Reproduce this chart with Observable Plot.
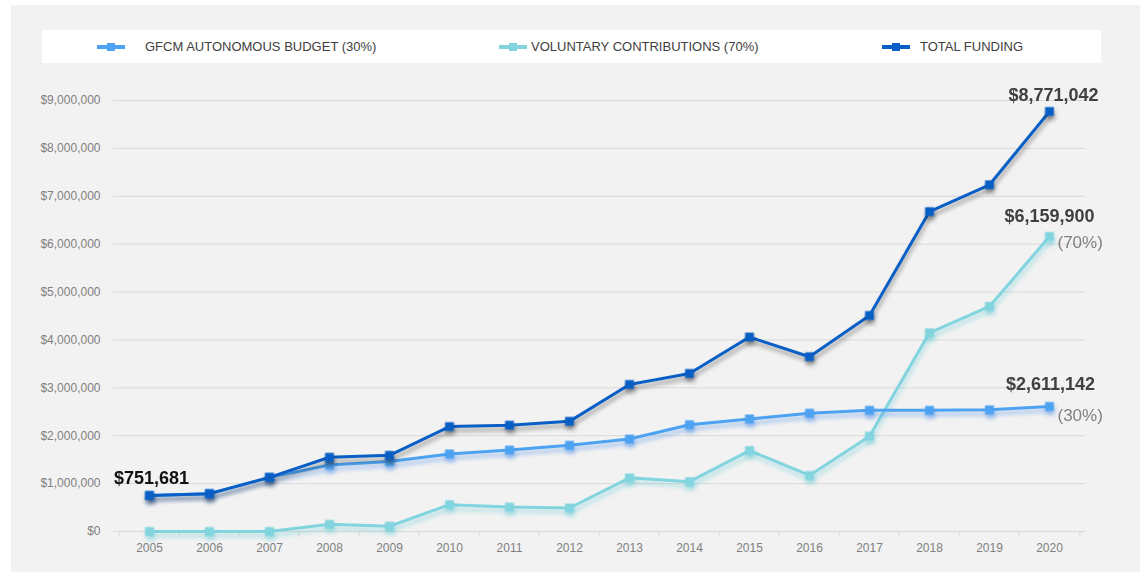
<!DOCTYPE html>
<html>
<head>
<meta charset="utf-8">
<script src="https://cdn.jsdelivr.net/npm/d3@7"></script>
<script src="https://cdn.jsdelivr.net/npm/@observablehq/plot@0.6"></script>
<style>
  html, body { margin: 0; padding: 0; background: #ffffff; }
  body { width: 1146px; height: 578px; overflow: hidden; font-family: "Liberation Sans", Arial, sans-serif; }
  #panel { position: absolute; left: 11px; top: 5px; width: 1129px; height: 567px; background: #f2f2f2; }
  #legend { position: absolute; left: 31px; top: 25px; width: 1059px; height: 33px; background: #ffffff; }
  .item { position: absolute; top: 0; height: 33px; display: flex; align-items: center; }
  .label { position: absolute; top: 0; height: 33px; line-height: 33px; font-size: 13px; color: #404040; white-space: nowrap; }
  #chart { position: absolute; left: 0; top: 58px; }
</style>
</head>
<body>
<div id="panel">
  <div id="legend"></div>
  <div id="chart"></div>
</div>
<script>
// ---- data ----
const years = ["2005","2006","2007","2008","2009","2010","2011","2012","2013","2014","2015","2016","2017","2018","2019","2020"];
const autonomous = [751681, 790000, 1130000, 1390000, 1460000, 1620000, 1700000, 1800000, 1930000, 2230000, 2350000, 2470000, 2530000, 2530000, 2540000, 2611142];
const voluntary  = [0, 0, 0, 150000, 110000, 560000, 510000, 490000, 1120000, 1040000, 1690000, 1170000, 1990000, 4150000, 4700000, 6159900];
const total      = [751681, 790000, 1130000, 1550000, 1590000, 2190000, 2220000, 2300000, 3070000, 3300000, 4060000, 3650000, 4510000, 6680000, 7240000, 8771042];
const seriesNames = ["GFCM AUTONOMOUS BUDGET (30%)", "VOLUNTARY CONTRIBUTIONS (70%)", "TOTAL FUNDING"];
const seriesColors = ["#4da3f2", "#82d4df", "#0a5fc6"];
const yTicks = [0, 1000000, 2000000, 3000000, 4000000, 5000000, 6000000, 7000000, 8000000, 9000000];
const shareLabels = ["(30%)", "(70%)"];

// ---- legend ----
const legendPos = [{sw: 55, tx: 103}, {sw: 457, tx: 489}, {sw: 840, tx: 878}];
const legend = document.getElementById("legend");
seriesNames.forEach((name, i) => {
  const sw = document.createElement("div");
  sw.className = "item";
  sw.style.left = legendPos[i].sw + "px";
  sw.innerHTML = `<svg width="28" height="12"><line x1="0" x2="28" y1="6" y2="6" stroke="${seriesColors[i]}" stroke-width="4"/><rect x="10" y="2" width="8" height="8" fill="${seriesColors[i]}"/></svg>`;
  legend.appendChild(sw);
  const lb = document.createElement("div");
  lb.className = "label";
  lb.style.left = legendPos[i].tx + "px";
  lb.textContent = name;
  legend.appendChild(lb);
});

// ---- tidy table ----
const rows = [];
const seriesData = [autonomous, voluntary, total];
seriesData.forEach((arr, s) => years.forEach((yr, i) => rows.push({year: yr, value: arr[i], series: seriesNames[s]})));
const drawOrder = [1, 0, 2];

const W = 1129, H = 509, ML = 102, MR = 55, MT = 37, MB = 41;
const step = (W - ML - MR) / years.length;
const fmt = d3.format("$,");

const marks = [
  Plot.gridY(yTicks, {stroke: "#d9d9d9", strokeOpacity: 1, strokeWidth: 1}),
  Plot.ruleY([0], {stroke: "#d9d9d9", strokeWidth: 1.2}),
  // separator ticks under the axis, between categories
  Plot.ruleX(years, {x: d => d, dx: -step / 2, y1: 0, y2: -110000, stroke: "#d9d9d9"}),
  Plot.ruleX(years.slice(-1), {x: d => d, dx: step / 2, y1: 0, y2: -110000, stroke: "#d9d9d9"})
];

drawOrder.forEach(s => {
  const data = rows.filter(r => r.series === seriesNames[s]);
  marks.push(Plot.line(data, {x: "year", y: "value", stroke: seriesColors[s], strokeWidth: 3, strokeLinejoin: "round"}));
  marks.push(Plot.dot(data, {x: "year", y: "value", symbol: "square", r: 5, fill: seriesColors[s], stroke: "none"}));
});

// annotations
marks.push(Plot.text([{year: years[0], value: total[0]}], {x: "year", y: "value", text: d => fmt(d.value), dy: -17, dx: 2, fontSize: 18, fontWeight: "bold", fill: "#111111"}));
marks.push(Plot.text([{year: years[15], value: total[15]}], {x: "year", y: "value", text: d => fmt(d.value), dy: -16, dx: 4, fontSize: 18, fontWeight: "bold", fill: "#404040"}));
marks.push(Plot.text([{year: years[15], value: voluntary[15]}], {x: "year", y: "value", text: d => fmt(d.value), dy: -20, dx: 0, fontSize: 18, fontWeight: "bold", fill: "#404040"}));
marks.push(Plot.text([{year: years[15], value: autonomous[15]}], {x: "year", y: "value", text: d => fmt(d.value), dy: -22, dx: 1, fontSize: 18, fontWeight: "bold", fill: "#404040"}));
marks.push(Plot.text([{year: years[15], value: voluntary[15], t: shareLabels[1]}], {x: "year", y: "value", text: "t", dy: 6, dx: 8, textAnchor: "start", fontSize: 17, fill: "#808080"}));
marks.push(Plot.text([{year: years[15], value: autonomous[15], t: shareLabels[0]}], {x: "year", y: "value", text: "t", dy: 9, dx: 8, textAnchor: "start", fontSize: 17, fill: "#808080"}));

const chart = Plot.plot({
  width: W,
  height: H,
  marginLeft: ML,
  marginRight: MR,
  marginTop: MT,
  marginBottom: MB,
  style: {background: "transparent", fontFamily: "'Liberation Sans', Arial, sans-serif", fontSize: "12px", color: "#808080", overflow: "visible"},
  x: {type: "point", domain: years, padding: 0.5, label: null, tickSize: 0, tickPadding: 12},
  y: {domain: [0, 9000000], ticks: yTicks, tickFormat: d => fmt(d), label: null, tickSize: 0, tickPadding: 13},
  marks
});
document.getElementById("chart").appendChild(chart);

// soft drop shadows under lines & markers (as in the reference)
const svg = d3.select(chart);
const shadowColors = ["rgba(90,200,210,0.45)", "rgba(60,130,230,0.45)", "rgba(0,0,0,0.35)"];
const lineGroups = svg.selectAll("g[aria-label='line']").nodes();
const dotGroups = svg.selectAll("g[aria-label='dot']").nodes();
drawOrder.forEach((s, k) => {
  const f = `drop-shadow(1px 4px 2px ${shadowColors[k]})`;
  if (lineGroups[k]) lineGroups[k].style.filter = f;
  if (dotGroups[k]) dotGroups[k].style.filter = f;
});
</script>
</body>
</html>
